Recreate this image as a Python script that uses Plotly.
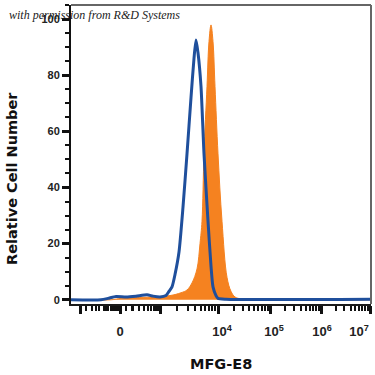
import numpy as np
import plotly.graph_objects as go

# Display-scale channel positions (biexponential display units, 0..300)
blue_x = [0, 30, 37, 45, 55, 65, 76, 82, 89, 95, 98, 101, 104, 108, 112, 116, 120, 123, 125,
          127, 130, 133, 137, 140, 142, 145, 147, 155, 300]
blue_y = [0, 0, 0.5, 1.2, 1.0, 1.3, 1.8, 1.3, 1.0, 1.5, 3, 4.6, 9, 17, 33, 52, 72, 86, 92.5,
          88, 76, 52, 28, 12, 4.6, 1.5, 0.5, 0.2, 0.2]

orange_x = [0, 40, 50, 80, 99, 110, 116, 121, 126, 129, 131, 133, 136, 138, 140, 142, 144,
            147, 151, 156, 160, 164, 170, 180, 300]
orange_y = [0, 0, 0.5, 1.0, 1.5, 2.5, 3.5, 6, 11, 20, 28, 52, 76, 92, 97.9, 92, 76,
            52, 28, 8, 3, 1, 0.3, 0, 0]

x_major_vals = [9, 49, 89, 147, 199, 250, 299]
x_label_vals = [49, 151, 203, 251, 288]
x_label_text = ["0", "10<sup>4</sup>", "10<sup>5</sup>", "10<sup>6</sup>", "10<sup>7</sup>"]
y_major_vals = [0, 20, 40, 60, 80, 100]

BLUE = "#1f4f9c"
ORANGE = "#f58220"

def minor_between(a, b):
    return [a + np.log10(k) * (b - a) for k in range(2, 10)]

x_minor = []
for a, b in [(9, 49), (49, 89), (89, 147), (147, 199), (199, 250), (250, 299)]:
    x_minor += minor_between(a, b)
x_minor += [15, 25, 35, 42, 55, 62]

fig = go.Figure()
fig.add_trace(go.Scatter(x=orange_x, y=orange_y, mode="lines", fill="tozeroy",
                         fillcolor=ORANGE, line=dict(color=ORANGE, width=1, shape="spline"),
                         hoverinfo="skip", showlegend=False))
fig.add_trace(go.Scatter(x=blue_x, y=blue_y, mode="lines",
                         line=dict(color=BLUE, width=3, shape="spline", smoothing=0.6),
                         hoverinfo="skip", showlegend=False))
# invisible trace to activate label axis
fig.add_trace(go.Scatter(x=[0], y=[0], xaxis="x2", mode="markers", opacity=0,
                         hoverinfo="skip", showlegend=False))

tickfont = dict(family="Liberation Sans", size=11, color="#222", weight="bold")
xlabfont = dict(family="Liberation Sans", size=13, color="#222", weight="bold")
titlefont = dict(family="DejaVu Sans", size=14.5, color="#111", weight="bold")

fig.update_layout(
    xaxis=dict(range=[0, 300], showgrid=False, zeroline=False, automargin=False,
               showline=True, linecolor="#1a1a1a", linewidth=2,
               ticks="outside", ticklen=8, tickwidth=3, tickcolor="#111",
               tickvals=x_major_vals, ticktext=[""] * len(x_major_vals),
               minor=dict(tickvals=x_minor, ticks="outside", ticklen=5, tickwidth=1.5,
                          tickcolor="#111")),
    xaxis2=dict(range=[0, 300], overlaying="x", side="bottom", anchor="y",
                showgrid=False, zeroline=False, showline=False, automargin=False,
                ticks="", tickvals=x_label_vals, ticktext=x_label_text,
                tickfont=xlabfont, ticklabelstandoff=18, ticklabeloverflow="allow"),
    yaxis=dict(range=[-1.5, 105], showgrid=False, zeroline=False, automargin=False,
               showline=True, linecolor="#111", linewidth=2,
               ticks="outside", ticklen=7, tickwidth=3, tickcolor="#111",
               tickvals=y_major_vals, tickfont=tickfont,
               minor=dict(dtick=5, ticks="outside", ticklen=4, tickwidth=1.5, tickcolor="#111")),
)

fig.add_annotation(text="MFG-E8", xref="paper", yref="paper", x=0.5, y=-0.2,
                   xanchor="center", yanchor="middle", showarrow=False, font=titlefont)
fig.add_annotation(text="Relative Cell Number", xref="paper", yref="paper", x=-0.195, y=0.42,
                   xanchor="center", yanchor="middle", textangle=-90, showarrow=False,
                   font=titlefont)

fig.add_shape(type="line", xref="paper", yref="paper", x0=0, x1=1, y0=1, y1=1,
              line=dict(color="#666", width=2))
fig.add_shape(type="line", xref="paper", yref="paper", x0=1, x1=1, y0=0, y1=1,
              line=dict(color="#666", width=2))

fig.add_annotation(text="with permission from R&amp;D Systems", xref="paper", yref="paper",
                   x=-0.215, y=0.965, xanchor="left", yanchor="middle", showarrow=False,
                   font=dict(family="Liberation Serif", size=12, color="#222", style="italic"))

fig.update_layout(width=375, height=375, margin=dict(l=71, r=4, t=5, b=71),
                  paper_bgcolor="white", plot_bgcolor="white")

fig.write_html("out.html", config={"displayModeBar": False},
               post_script="document.body.style.margin='0';")
